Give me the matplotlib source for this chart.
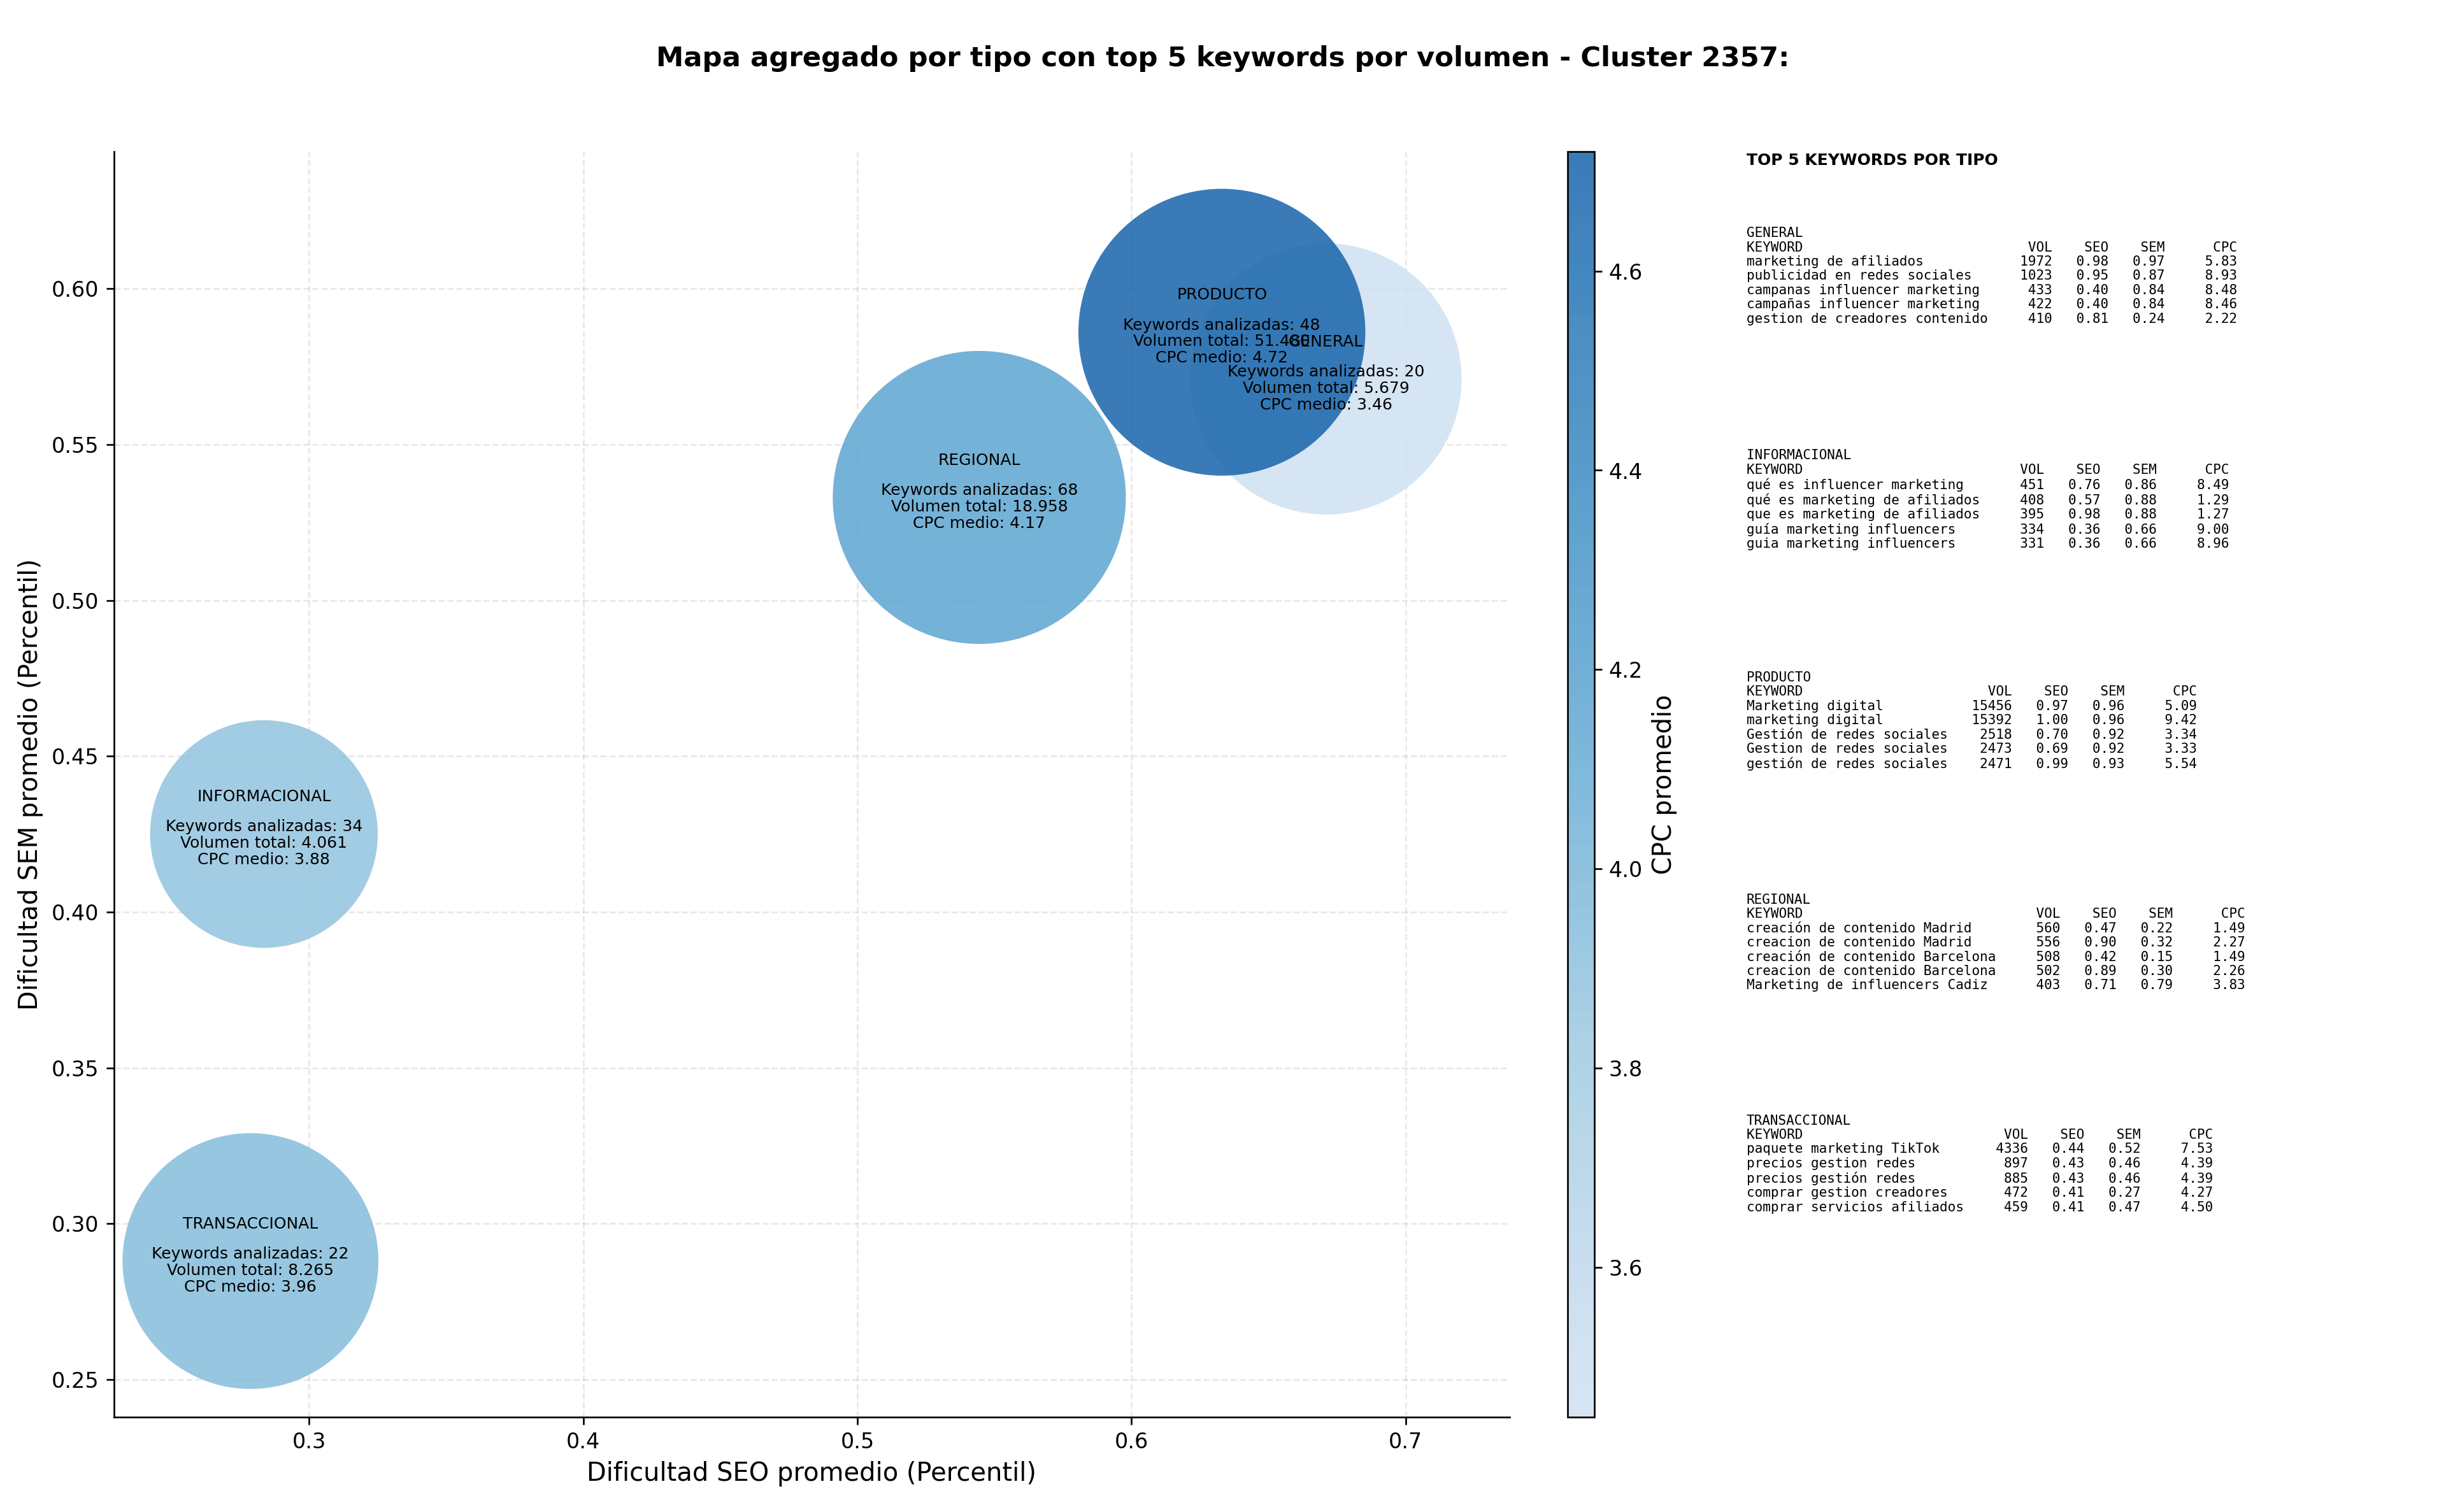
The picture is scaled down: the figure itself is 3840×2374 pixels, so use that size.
import matplotlib
matplotlib.use("Agg")
import matplotlib.pyplot as plt
from matplotlib.colors import LinearSegmentedColormap
import numpy as np

tipos = ["GENERAL", "INFORMACIONAL", "PRODUCTO", "REGIONAL", "TRANSACCIONAL"]
seo = [0.671, 0.2835, 0.633, 0.5445, 0.2786]
sem = [0.571, 0.425, 0.586, 0.533, 0.288]
n_kw = [20, 34, 48, 68, 22]
vol_total = [5679, 4061, 51480, 18958, 8265]
cpc = [3.46, 3.88, 4.72, 4.17, 3.96]
bubble_area = [16300, 11500, 18260, 19050, 14520]

top_kw = {
    "GENERAL": [
        ("marketing de afiliados", 1972, 0.98, 0.97, 5.83),
        ("publicidad en redes sociales", 1023, 0.95, 0.87, 8.93),
        ("campanas influencer marketing", 433, 0.40, 0.84, 8.48),
        ("campañas influencer marketing", 422, 0.40, 0.84, 8.46),
        ("gestion de creadores contenido", 410, 0.81, 0.24, 2.22),
    ],
    "INFORMACIONAL": [
        ("qué es influencer marketing", 451, 0.76, 0.86, 8.49),
        ("qué es marketing de afiliados", 408, 0.57, 0.88, 1.29),
        ("que es marketing de afiliados", 395, 0.98, 0.88, 1.27),
        ("guía marketing influencers", 334, 0.36, 0.66, 9.00),
        ("guia marketing influencers", 331, 0.36, 0.66, 8.96),
    ],
    "PRODUCTO": [
        ("Marketing digital", 15456, 0.97, 0.96, 5.09),
        ("marketing digital", 15392, 1.00, 0.96, 9.42),
        ("Gestión de redes sociales", 2518, 0.70, 0.92, 3.34),
        ("Gestion de redes sociales", 2473, 0.69, 0.92, 3.33),
        ("gestión de redes sociales", 2471, 0.99, 0.93, 5.54),
    ],
    "REGIONAL": [
        ("creación de contenido Madrid", 560, 0.47, 0.22, 1.49),
        ("creacion de contenido Madrid", 556, 0.90, 0.32, 2.27),
        ("creación de contenido Barcelona", 508, 0.42, 0.15, 1.49),
        ("creacion de contenido Barcelona", 502, 0.89, 0.30, 2.26),
        ("Marketing de influencers Cadiz", 403, 0.71, 0.79, 3.83),
    ],
    "TRANSACCIONAL": [
        ("paquete marketing TikTok", 4336, 0.44, 0.52, 7.53),
        ("precios gestion redes", 897, 0.43, 0.46, 4.39),
        ("precios gestión redes", 885, 0.43, 0.46, 4.39),
        ("comprar gestion creadores", 472, 0.41, 0.27, 4.27),
        ("comprar servicios afiliados", 459, 0.41, 0.47, 4.50),
    ],
}

blues = plt.get_cmap("Blues")
cmap = LinearSegmentedColormap.from_list("tblues", blues(np.linspace(0.2, 0.8, 256)))

fig = plt.figure(figsize=(16, 9.892), dpi=240)
ax = fig.add_axes([0.0466, 0.0629, 0.5706, 0.8369])
cax = fig.add_axes([0.641, 0.0629, 0.0107, 0.8369])

sc = ax.scatter(seo, sem, s=bubble_area, c=cpc, cmap=cmap,
                vmin=3.45, vmax=4.72, alpha=0.85, edgecolors="none", zorder=2)
for i, t in enumerate(tipos):
    volstr = f"{vol_total[i]:,}".replace(",", ".")
    ax.text(seo[i], sem[i] + 0.0095, t, ha="center", va="bottom", fontsize=7.5, zorder=3)
    ax.text(seo[i], sem[i] - 0.003,
            f"Keywords analizadas: {n_kw[i]}\nVolumen total: {volstr}\nCPC medio: {cpc[i]:.2f}",
            ha="center", va="center", fontsize=7.5, zorder=3, linespacing=1.1)

ax.set_xlim(0.2288, 0.738)
ax.set_ylim(0.238, 0.644)
ax.set_xticks([0.3, 0.4, 0.5, 0.6, 0.7])
ax.set_xticklabels(["0.3", "0.4", "0.5", "0.6", "0.7"])
ax.set_yticks([0.25, 0.30, 0.35, 0.40, 0.45, 0.50, 0.55, 0.60])
ax.grid(True, linestyle="--", alpha=0.3)
ax.set_axisbelow(True)
ax.spines["top"].set_visible(False)
ax.spines["right"].set_visible(False)
ax.set_xlabel("Dificultad SEO promedio (Percentil)", fontsize=12)
ax.set_ylabel("Dificultad SEM promedio (Percentil)", fontsize=12)

cb = fig.colorbar(sc, cax=cax)
cb.set_label("CPC promedio", fontsize=12)

fig.suptitle("Mapa agregado por tipo con top 5 keywords por volumen - Cluster 2357:",
             fontsize=13, fontweight="bold", y=0.97)

fig.text(0.714, 0.889, "TOP 5 KEYWORDS POR TIPO", fontsize=7.5, fontweight="bold", va="bottom")
ys = [0.850, 0.703, 0.556, 0.409, 0.263]
for t, y in zip(tipos, ys):
    rows = top_kw[t]
    w = max(len(r[0]) for r in rows) + 2
    lines = [t, f"{'KEYWORD':<{w}}{'VOL':>6}{'SEO':>7}{'SEM':>7}{'CPC':>9}"]
    for k, v, s1, s2, c in rows:
        lines.append(f"{k:<{w}}{v:>6}{s1:>7.2f}{s2:>7.2f}{c:>9.2f}")
    fig.text(0.714, y, "\n".join(lines), family="DejaVu Sans Mono", fontsize=6.3,
             va="top", linespacing=1.15)

fig.savefig("out.png", dpi=240)
